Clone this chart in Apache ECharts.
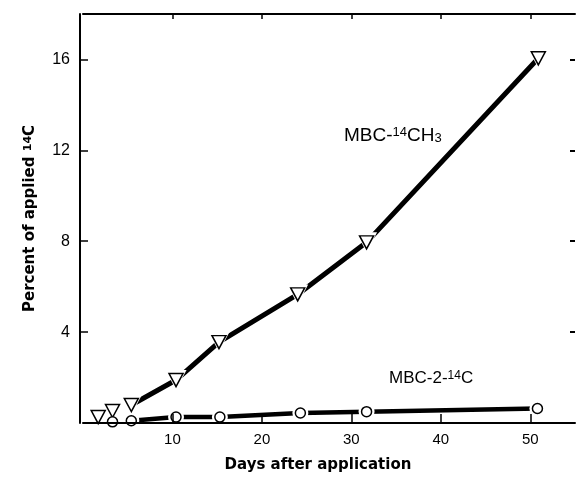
<!DOCTYPE html>
<html>
<head>
<meta charset="utf-8">
<script src="https://cdn.jsdelivr.net/npm/echarts@6/dist/echarts.min.js"></script>
<style>
  html, body { margin: 0; padding: 0; background: #fff; }
  #chart { width: 578px; height: 478px; }
</style>
</head>
<body>
<div id="chart"></div>
<script>
// MBC-14CH3 (triangles)
const triDays = [1.7, 3.3, 5.4, 10.4, 15.2, 24.0, 31.7, 50.9];
const triVals = [0.26, 0.53, 0.79, 1.89, 3.56, 5.66, 7.95, 16.05];
// MBC-2-14C (circles)
const circDays = [3.3, 5.4, 10.4, 15.3, 24.3, 31.7, 50.8];
const circVals = [0.05, 0.1, 0.26, 0.26, 0.44, 0.5, 0.64];
// connected lines start from the third triangle / second circle
const triLineStart = 2;
const circLineStart = 1;

const xTicks = [10, 20, 30, 40, 50];
const yTicks = [4, 8, 12, 16];

const zip = (xs, ys) => xs.map((x, i) => [x, ys[i]]);
const triPts = zip(triDays, triVals);
const circPts = zip(circDays, circVals);

const FONT = 'Liberation Sans';
const black = '#000';

const chart = echarts.init(document.getElementById('chart'));

const option = {
  animation: false,
  backgroundColor: '#fff',
  grid: { left: 83, right: 0, top: 14, bottom: 54 },
  xAxis: [{
    type: 'value', min: 0, max: 55, interval: 10, z: 10,
    position: 'bottom',
    axisLine: { show: true, onZero: false, lineStyle: { color: black, width: 2 } },
    axisTick: { show: true, inside: true, length: 9, customValues: xTicks, lineStyle: { color: black, width: 1.5 } },
    axisLabel: {
      color: black, fontFamily: FONT, fontSize: 15, margin: 9,
      formatter: v => (xTicks.includes(v) ? String(v) : '')
    },
    splitLine: { show: false },
    name: 'Days after application',
    nameLocation: 'middle', nameGap: 35,
    nameTextStyle: {
      color: black, fontFamily: 'DejaVu Sans', fontSize: 15, fontWeight: 'bold',
      padding: [0, 22, 0, 0]
    }
  }, {
    type: 'value', min: 0, max: 55, interval: 10, z: 10,
    position: 'top',
    axisLine: { show: true, onZero: false, lineStyle: { color: black, width: 2 } },
    axisTick: { show: true, inside: true, length: 5, customValues: xTicks, lineStyle: { color: black, width: 1.5 } },
    axisLabel: { show: false },
    splitLine: { show: false }
  }],
  yAxis: [{
    type: 'value', min: 0, max: 18, interval: 4, z: 10,
    position: 'left', offset: 3,
    axisLine: { show: true, onZero: false, lineStyle: { color: black, width: 2 } },
    axisTick: { show: true, inside: true, length: 8, customValues: yTicks, lineStyle: { color: black, width: 1.5 } },
    axisLabel: {
      color: black, fontFamily: FONT, fontSize: 16, margin: 10,
      formatter: v => (yTicks.includes(v) ? String(v) : '')
    },
    splitLine: { show: false },
    name: 'Percent of applied {sup|14}C',
    nameLocation: 'middle', nameGap: 42,
    nameTextStyle: {
      color: black, fontFamily: 'DejaVu Sans', fontSize: 15, fontWeight: 'bold',
      rich: { sup: { fontFamily: 'DejaVu Sans', fontSize: 11, fontWeight: 'bold', verticalAlign: 'top', color: black } }
    }
  }, {
    type: 'value', min: 0, max: 18, interval: 4,
    position: 'right',
    axisLine: { show: false, onZero: false },
    axisTick: { show: true, inside: true, length: 5, customValues: yTicks, lineStyle: { color: black, width: 2 } },
    axisLabel: { show: false },
    splitLine: { show: false }
  }],
  series: [
    {
      type: 'line', data: triPts.slice(triLineStart), showSymbol: false, symbol: 'none',
      lineStyle: { color: black, width: 5 }, z: 2
    },
    {
      type: 'line', data: circPts.slice(circLineStart), showSymbol: false, symbol: 'none',
      lineStyle: { color: black, width: 4.5 }, z: 2
    },
    // white halos leave a gap in the line around each marker
    {
      type: 'scatter', data: triPts, symbol: 'triangle', symbolRotate: 180, symbolSize: [21, 20],
      itemStyle: { color: '#fff', opacity: 1 }, z: 3, silent: true
    },
    {
      type: 'scatter', data: circPts, symbol: 'circle', symbolSize: 16,
      itemStyle: { color: '#fff', opacity: 1 }, z: 3, silent: true
    },
    {
      type: 'scatter', data: triPts, symbol: 'triangle', symbolRotate: 180, symbolSize: [14, 13],
      itemStyle: { color: '#fff', borderColor: black, borderWidth: 1.5, opacity: 1 }, z: 4
    },
    {
      type: 'scatter', data: circPts, symbol: 'circle', symbolSize: 10,
      itemStyle: { color: '#fff', borderColor: black, borderWidth: 1.5, opacity: 1 }, z: 4
    }
  ],
  graphic: [
    {
      type: 'text', left: 344, top: 126, z: 20,
      style: {
        text: 'MBC-{sup|14}CH{sub|3}',
        fill: black, font: '19px "Liberation Sans"',
        rich: {
          sup: { fontFamily: FONT, fontSize: 13, verticalAlign: 'top', fill: black },
          sub: { fontFamily: FONT, fontSize: 13, verticalAlign: 'bottom', fill: black }
        }
      }
    },
    {
      type: 'text', left: 389, top: 370, z: 20,
      style: {
        text: 'MBC-2-{sup|14}C',
        fill: black, font: '17px "Liberation Sans"',
        rich: {
          sup: { fontFamily: FONT, fontSize: 12, verticalAlign: 'top', fill: black }
        }
      }
    }
  ]
};

chart.setOption(option);
window.addEventListener('resize', () => chart.resize());
</script>
</body>
</html>
